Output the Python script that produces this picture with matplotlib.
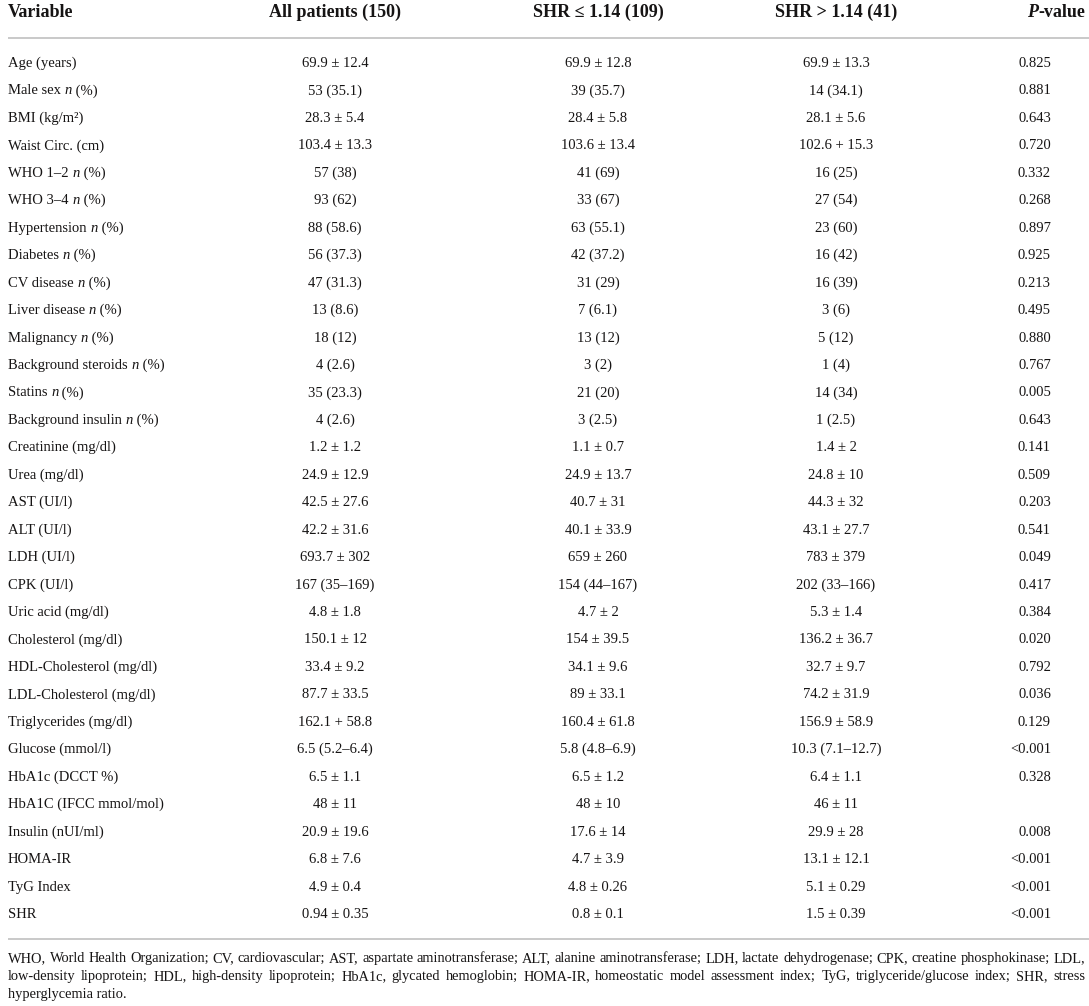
import matplotlib
matplotlib.use("Agg")
import matplotlib.pyplot as plt

plt.rcParams.update({
    "font.family": ["Liberation Serif", "DejaVu Serif"],
})

# ---------------- data ----------------
# Each label is a list of (text, italic?) runs
headers = ["Variable", "All patients (150)", "SHR ≤ 1.14 (109)",
           "SHR > 1.14 (41)"]
p_header = [("P", True), ("-value", False)]

variables = [
    [("Age (years)", False)],
    [("Male sex ", False), ("n", True), (" (%)", False)],
    [("BMI (kg/m²)", False)],
    [("Waist Circ. (cm)", False)],
    [("WHO 1–2 ", False), ("n", True), (" (%)", False)],
    [("WHO 3–4 ", False), ("n", True), (" (%)", False)],
    [("Hypertension ", False), ("n", True), (" (%)", False)],
    [("Diabetes ", False), ("n", True), (" (%)", False)],
    [("CV disease ", False), ("n", True), (" (%)", False)],
    [("Liver disease ", False), ("n", True), (" (%)", False)],
    [("Malignancy ", False), ("n", True), (" (%)", False)],
    [("Background steroids ", False), ("n", True), (" (%)", False)],
    [("Statins ", False), ("n", True), (" (%)", False)],
    [("Background insulin ", False), ("n", True), (" (%)", False)],
    [("Creatinine (mg/dl)", False)],
    [("Urea (mg/dl)", False)],
    [("AST (UI/l)", False)],
    [("ALT (UI/l)", False)],
    [("LDH (UI/l)", False)],
    [("CPK (UI/l)", False)],
    [("Uric acid (mg/dl)", False)],
    [("Cholesterol (mg/dl)", False)],
    [("HDL-Cholesterol (mg/dl)", False)],
    [("LDL-Cholesterol (mg/dl)", False)],
    [("Triglycerides (mg/dl)", False)],
    [("Glucose (mmol/l)", False)],
    [("HbA1c (DCCT %)", False)],
    [("HbA1C (IFCC mmol/mol)", False)],
    [("Insulin (nUI/ml)", False)],
    [("HOMA-IR", False)],
    [("TyG Index", False)],
    [("SHR", False)],
]

all_patients = [
    "69.9 ± 12.4", "53 (35.1)", "28.3 ± 5.4", "103.4 ± 13.3", "57 (38)",
    "93 (62)", "88 (58.6)", "56 (37.3)", "47 (31.3)", "13 (8.6)", "18 (12)",
    "4 (2.6)", "35 (23.3)", "4 (2.6)", "1.2 ± 1.2", "24.9 ± 12.9",
    "42.5 ± 27.6", "42.2 ± 31.6", "693.7 ± 302", "167 (35–169)", "4.8 ± 1.8",
    "150.1 ± 12", "33.4 ± 9.2", "87.7 ± 33.5", "162.1 + 58.8",
    "6.5 (5.2–6.4)", "6.5 ± 1.1", "48 ± 11", "20.9 ± 19.6", "6.8 ± 7.6",
    "4.9 ± 0.4", "0.94 ± 0.35",
]

shr_low = [
    "69.9 ± 12.8", "39 (35.7)", "28.4 ± 5.8", "103.6 ± 13.4", "41 (69)",
    "33 (67)", "63 (55.1)", "42 (37.2)", "31 (29)", "7 (6.1)", "13 (12)",
    "3 (2)", "21 (20)", "3 (2.5)", "1.1 ± 0.7", "24.9 ± 13.7", "40.7 ± 31",
    "40.1 ± 33.9", "659 ± 260", "154 (44–167)", "4.7 ± 2", "154 ± 39.5",
    "34.1 ± 9.6", "89 ± 33.1", "160.4 ± 61.8", "5.8 (4.8–6.9)", "6.5 ± 1.2",
    "48 ± 10", "17.6 ± 14", "4.7 ± 3.9", "4.8 ± 0.26", "0.8 ± 0.1",
]

shr_high = [
    "69.9 ± 13.3", "14 (34.1)", "28.1 ± 5.6", "102.6 + 15.3", "16 (25)",
    "27 (54)", "23 (60)", "16 (42)", "16 (39)", "3 (6)", "5 (12)", "1 (4)",
    "14 (34)", "1 (2.5)", "1.4 ± 2", "24.8 ± 10", "44.3 ± 32", "43.1 ± 27.7",
    "783 ± 379", "202 (33–166)", "5.3 ± 1.4", "136.2 ± 36.7", "32.7 ± 9.7",
    "74.2 ± 31.9", "156.9 ± 58.9", "10.3 (7.1–12.7)", "6.4 ± 1.1", "46 ± 11",
    "29.9 ± 28", "13.1 ± 12.1", "5.1 ± 0.29", "1.5 ± 0.39",
]

p_values = [
    "0.825", "0.881", "0.643", "0.720", "0.332", "0.268", "0.897", "0.925",
    "0.213", "0.495", "0.880", "0.767", "0.005", "0.643", "0.141", "0.509",
    "0.203", "0.541", "0.049", "0.417", "0.384", "0.020", "0.792", "0.036",
    "0.129", "<0.001", "0.328", "", "0.008", "<0.001", "<0.001", "<0.001",
]

footnote_lines = [
    "WHO, World Health Organization; CV, cardiovascular; AST, aspartate aminotransferase; "
    "ALT, alanine aminotransferase; LDH, lactate dehydrogenase; CPK, creatine phosphokinase; LDL,",
    "low-density lipoprotein; HDL, high-density lipoprotein; HbA1c, glycated hemoglobin; "
    "HOMA-IR, homeostatic model assessment index; TyG, triglyceride/glucose index; SHR, stress",
    "hyperglycemia ratio.",
]

# ---------------- layout ----------------
W, H = 1089, 1006
TXT = "#161414"
RULE = "#c9c9c9"

fig = plt.figure(figsize=(W / 100, H / 100), dpi=100)
ax = fig.add_axes([0, 0, 1, 1])
ax.set_xlim(0, W)
ax.set_ylim(H, 0)
ax.axis("off")
renderer = fig.canvas.get_renderer()


def text_width(s, fs, italic=False, weight="normal"):
    t = ax.text(0, 0, s, fontsize=fs, style="italic" if italic else "normal",
                fontweight=weight)
    w = t.get_window_extent(renderer).width
    t.remove()
    return w


def seg_width(s, fs, italic=False, weight="normal"):
    return (text_width("|" + s + "|", fs, italic, weight)
            - text_width("||", fs, italic, weight))


def draw_runs(x, y, runs, fs, ha="left", weight="normal"):
    widths = [seg_width(s, fs, it, weight) for s, it in runs]
    if ha == "right":
        x -= sum(widths)
    elif ha == "center":
        x -= sum(widths) / 2
    for (s, it), w in zip(runs, widths):
        ax.text(x, y, s, fontsize=fs, style="italic" if it else "normal",
                fontweight=weight, ha="left", va="baseline", color=TXT)
        x += w


x_left = 8
x_right = 1085
col_centers = [335, 598, 836]
p_right = 1051
body_fs = 10.5
head_fs = 13

# header
head_base = 17
ax.text(x_left, head_base, headers[0], fontsize=head_fs, fontweight="bold",
        ha="left", va="baseline", color=TXT)
for cx, h in zip(col_centers, headers[1:4]):
    ax.text(cx, head_base, h, fontsize=head_fs, fontweight="bold",
            ha="center", va="baseline", color=TXT)
draw_runs(x_right, head_base, p_header, head_fs, ha="right", weight="bold")

ax.plot([x_left, W], [37.5, 37.5], color=RULE, lw=1.4, solid_capstyle="butt")

# body rows
first_base = 67
last_base = 918
n = len(variables)
step = (last_base - first_base) / (n - 1)
for i in range(n):
    yb = first_base + i * step
    draw_runs(x_left, yb, variables[i], body_fs)
    for cx, col in zip(col_centers, (all_patients, shr_low, shr_high)):
        ax.text(cx, yb, col[i], fontsize=body_fs, ha="center",
                va="baseline", color=TXT)
    if p_values[i]:
        ax.text(p_right, yb, p_values[i], fontsize=body_fs, ha="right",
                va="baseline", color=TXT)

ax.plot([x_left, W], [939, 939], color=RULE, lw=1.4, solid_capstyle="butt")

# footnote (justified with word spacing)
target = x_right - x_left
foot_fs = 12.0
while foot_fs > 8:
    ok = True
    for line in footnote_lines[:-1]:
        words = line.split(" ")
        widths = [seg_width(w, foot_fs) for w in words]
        if (target - sum(widths)) / (len(words) - 1) < 3.0:
            ok = False
    if ok:
        break
    foot_fs -= 0.1

foot_bases = [962, 980, 998]
for li, (line, yb) in enumerate(zip(footnote_lines, foot_bases)):
    if li < len(footnote_lines) - 1:
        words = line.split(" ")
        widths = [seg_width(w, foot_fs) for w in words]
        gap = (target - sum(widths)) / (len(words) - 1)
        x = x_left
        for w, wd in zip(words, widths):
            ax.text(x, yb, w, fontsize=foot_fs, ha="left", va="baseline",
                    color=TXT)
            x += wd + gap
    else:
        ax.text(x_left, yb, line, fontsize=foot_fs, ha="left",
                va="baseline", color=TXT)

fig.savefig("out.png", dpi=100)
